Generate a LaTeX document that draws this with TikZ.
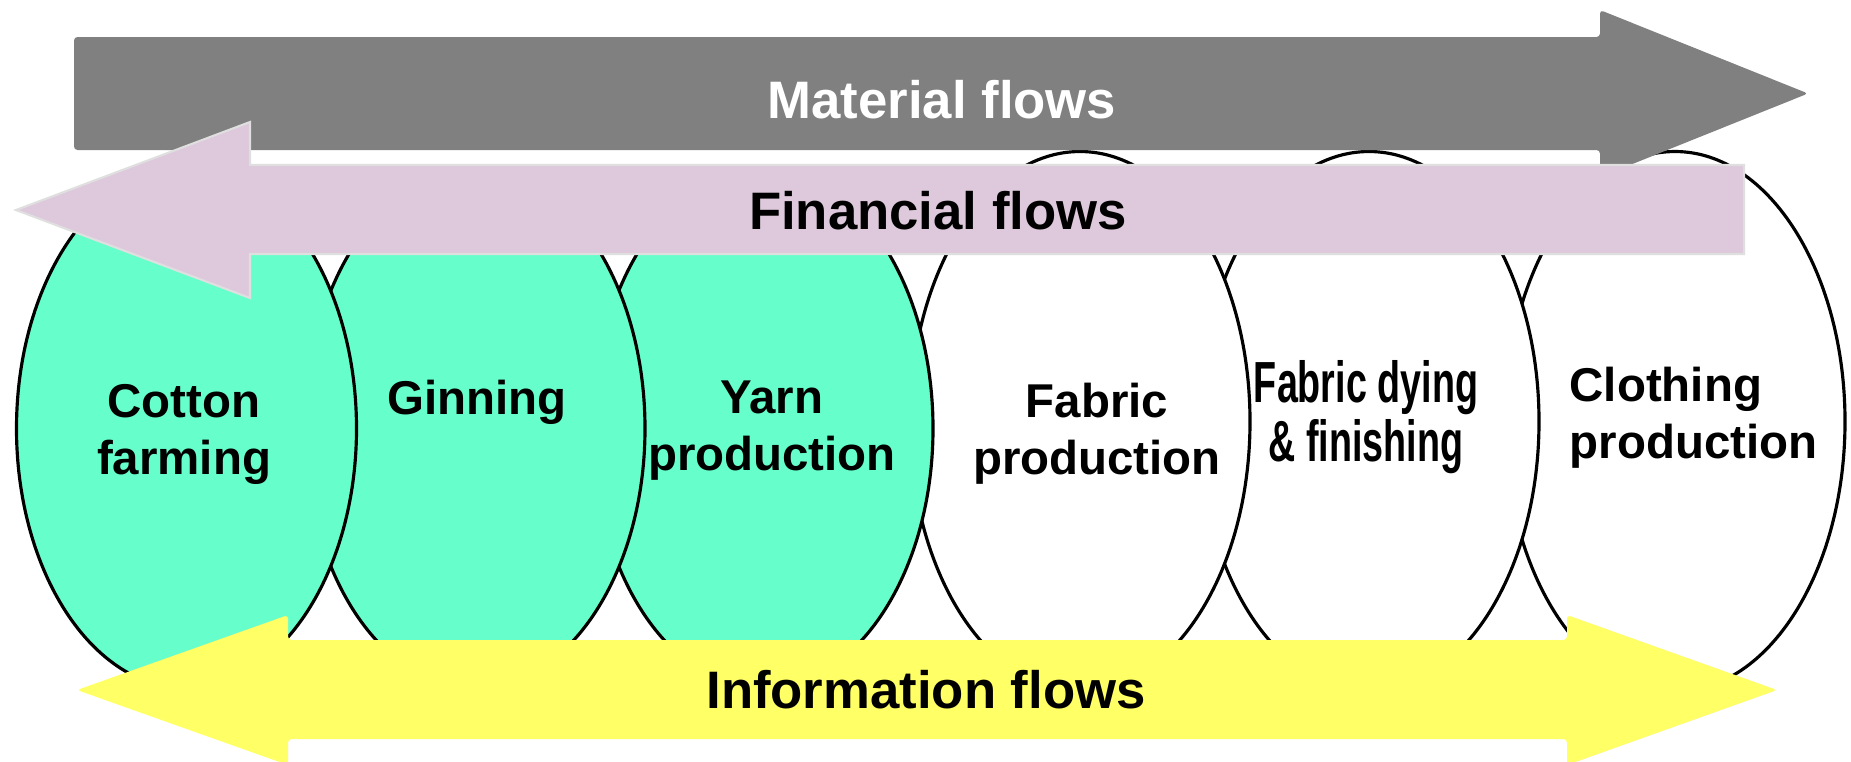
\documentclass[tikz,border=0pt]{standalone}
\usepackage{fontspec}
\setmainfont{Liberation Sans}
\definecolor{cottongreen}{RGB}{102,255,204}
\definecolor{matgray}{RGB}{128,128,128}
\definecolor{finpink}{RGB}{221,201,219}
\definecolor{infoyellow}{RGB}{255,255,102}
\usetikzlibrary{shapes.geometric}

\begin{document}
\begin{tikzpicture}[
    stage/.style={ellipse, draw=black, line width=0.9pt,
                  minimum width=3.40cm, minimum height=5.40cm, inner sep=0pt},
    fibrestage/.style={stage, fill=cottongreen, minimum height=5.20cm},
    stagetext/.style={align=center, inner sep=0pt,
                      font=\fontsize{13.5}{16.2}\selectfont\bfseries},
    flowtext/.style={inner sep=0pt, font=\fontsize{15}{18}\selectfont\bfseries}
  ]
    \useasboundingbox (0,0) rectangle (18.51,-7.61);

    % Stages, right to left so the left one lies on top
    \node[stage, fill=white] (cloth) at (16.75,-4.215) {};
    \node[stage, fill=white] (dye)   at (13.69,-4.215) {};
    \node[stage, fill=white] (fabr)  at (10.80,-4.215) {};
    \node[fibrestage]        (yarn)  at (7.63,-4.285)  {};
    \node[fibrestage]        (gin)   at (4.75,-4.285)  {};
    \node[fibrestage]        (farm)  at (1.865,-4.285) {};

    % Stage labels
    \node[stagetext] (farmlbl)  at (1.84,-4.34)  {Cotton\\farming};
    \node[stagetext] (ginlbl)   at (4.77,-4.02)  {Ginning};
    \node[stagetext] (yarnlbl)  at (7.72,-4.31)  {Yarn\\production};
    \node[stagetext] (fabrlbl)  at (10.97,-4.34) {Fabric\\production};
    \node[stagetext, font=\fontsize{16.5}{16.8}\selectfont\bfseries,
          xscale=0.65, transform shape] (dyelbl) at (13.66,-4.17)
          {Fabric dying\\\& finishing};
    \node[stagetext, align=left, anchor=west] (clothlbl) at (15.69,-4.18)
          {Clothing\\production};

    % Material flows
    \fill[matgray, rounded corners=1pt] (0.74,-0.37) -- (16.00,-0.37) -- (16.00,-0.10)
        -- (18.08,-0.935) -- (16.00,-1.77) -- (16.00,-1.50) -- (0.74,-1.50) -- cycle;
    \node[flowtext, text=white] (matlbl) at (9.42,-1.00) {Material flows};

    % Financial flows
    \filldraw[fill=finpink, draw=gray!25, line width=0.6pt] (0.16,-2.10) -- (2.50,-1.22)
        -- (2.50,-1.65) -- (17.44,-1.65) -- (17.44,-2.54) -- (2.50,-2.54)
        -- (2.50,-2.98) -- cycle;
    \node[flowtext] (finlbl) at (9.38,-2.11) {Financial flows};

    % Information flows
    \fill[infoyellow, rounded corners=1pt] (0.77,-6.90) -- (2.88,-6.15) -- (2.88,-6.40)
        -- (15.67,-6.40) -- (15.67,-6.15) -- (17.77,-6.90) -- (15.67,-7.65)
        -- (15.67,-7.39) -- (2.88,-7.39) -- (2.88,-7.65) -- cycle;
    \node[flowtext] (infolbl) at (9.26,-6.90) {Information flows};
\end{tikzpicture}
\end{document}
